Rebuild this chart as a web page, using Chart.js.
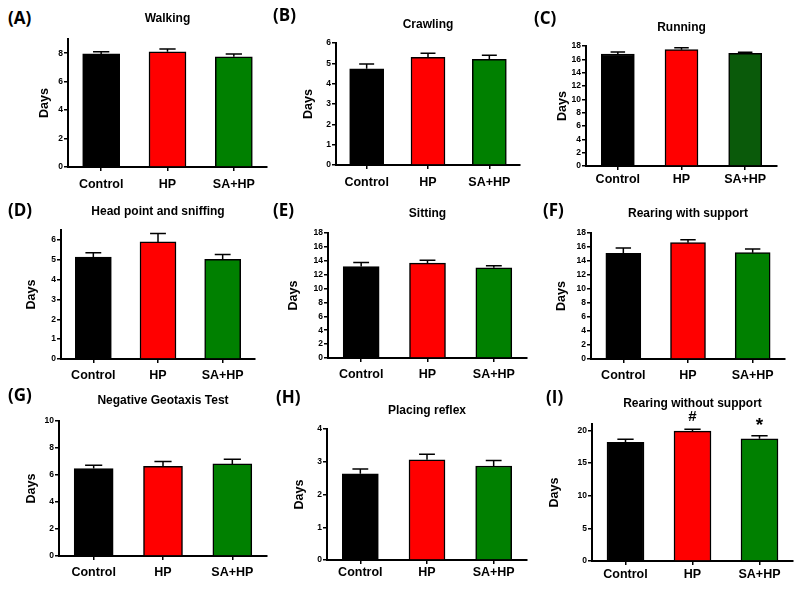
<!DOCTYPE html>
<html>
<head>
<meta charset="utf-8">
<script src="https://cdn.jsdelivr.net/npm/chart.js@4.4.0/dist/chart.umd.min.js"></script>
<style>
  body { margin: 0; background: #fff; }
  #wrap { position: relative; width: 800px; height: 592px; overflow: hidden; }
  #wrap canvas { position: absolute; left: 0; top: 0; }
  .letter { position: absolute; font: bold 17px "Open Sans", sans-serif; color: #000; line-height: 1; }
</style>
</head>
<body>
<div id="wrap"></div>
<script>
// --- data (mean days, upper error = SEM)
const groups = ['Control', 'HP', 'SA+HP'];

const walking = [7.95, 8.1, 7.75];
const walkingErr = [0.15, 0.2, 0.2];
const crawling = [4.73, 5.3, 5.2];
const crawlingErr = [0.24, 0.2, 0.2];
const running = [16.8, 17.45, 16.9];
const runningErr = [0.3, 0.3, 0.15];
const headPoint = [5.13, 5.9, 5.02];
const headPointErr = [0.22, 0.42, 0.25];
const sitting = [13.18, 13.66, 12.99];
const sittingErr = [0.57, 0.43, 0.29];
const rearingWith = [15.09, 16.62, 15.19];
const rearingWithErr = [0.76, 0.43, 0.52];
const geotaxis = [6.48, 6.65, 6.82];
const geotaxisErr = [0.24, 0.35, 0.35];
const placing = [2.63, 3.06, 2.87];
const placingErr = [0.15, 0.17, 0.17];
const rearingWithout = [18.2, 19.9, 18.72];
const rearingWithoutErr = [0.47, 0.3, 0.46];
const rearingWithoutMarks = ['', '#', '*'];

// y axis ranges: [max, step]
const walkingAxis = [9, 2];
const crawlingAxis = [6, 1];
const runningAxis = [18, 2];
const headPointAxis = [6.5, 1];
const sittingAxis = [18, 2];
const rearingWithAxis = [18, 2];
const geotaxisAxis = [10, 2];
const placingAxis = [4, 1];
const rearingWithoutAxis = [21, 5];

const barColors = ['#000000', '#ff0000', '#008000'];
const barColorsDark = ['#000000', '#ff0000', '#0a5a0a'];

// --- layout of each panel (plot box: left, right, top, bottom in page px)
const panels = [
  { letter: '(A)', lx: 8,   ly: 9,   title: 'Walking', values: walking, errors: walkingErr, axis: walkingAxis,
    box: [68, 267, 39, 167], titleY: 19, daysX: 45, labelY: 185, bar: 37 },
  { letter: '(B)', lx: 273, ly: 6,   title: 'Crawling', values: crawling, errors: crawlingErr, axis: crawlingAxis,
    box: [336, 520, 43, 165], titleY: 25, daysX: 309, labelY: 183, bar: 34 },
  { letter: '(C)', lx: 534, ly: 9,   title: 'Running', values: running, errors: runningErr, axis: runningAxis,
    box: [586, 777, 46, 166], titleY: 28, daysX: 563, labelY: 180, bar: 33, colors: barColorsDark },
  { letter: '(D)', lx: 8,   ly: 201, title: 'Head point and sniffing', values: headPoint, errors: headPointErr, axis: headPointAxis,
    box: [61, 255, 230, 359], titleY: 212, daysX: 32, labelY: 376, bar: 36 },
  { letter: '(E)', lx: 273, ly: 201, title: 'Sitting', values: sitting, errors: sittingErr, axis: sittingAxis,
    box: [328, 527, 233, 358], titleY: 214, daysX: 294, labelY: 375, bar: 36 },
  { letter: '(F)', lx: 543, ly: 201, title: 'Rearing with support', values: rearingWith, errors: rearingWithErr, axis: rearingWithAxis,
    box: [591, 785, 233, 359], titleY: 214, daysX: 562, labelY: 376, bar: 35 },
  { letter: '(G)', lx: 8,   ly: 386, title: 'Negative Geotaxis Test', values: geotaxis, errors: geotaxisErr, axis: geotaxisAxis,
    box: [59, 267, 421, 556], titleY: 401, daysX: 32, labelY: 573, bar: 39 },
  { letter: '(H)', lx: 276, ly: 388, title: 'Placing reflex', values: placing, errors: placingErr, axis: placingAxis,
    box: [327, 527, 429, 560], titleY: 411, daysX: 300, labelY: 573, bar: 36 },
  { letter: '(I)', lx: 546, ly: 388, title: 'Rearing without support', values: rearingWithout, errors: rearingWithoutErr, axis: rearingWithoutAxis,
    box: [592, 793, 424, 561], titleY: 404, daysX: 555, labelY: 575, bar: 37, marks: rearingWithoutMarks }
];

const W = 800, H = 592;
const X_AXIS_H = 30;
const LABEL_FONT = 12.5;
const TICK_LEN = 4;

// upper error bars, panel title and significance marks
const panelExtras = {
  id: 'panelExtras',
  afterDatasetsDraw(chart, args, opts) {
    const ctx = chart.ctx;
    const meta = chart.getDatasetMeta(0);
    const y = chart.scales.y;
    ctx.save();
    ctx.strokeStyle = '#000';
    ctx.lineWidth = 1.5;
    meta.data.forEach((bar, i) => {
      const v = opts.values[i];
      const top = y.getPixelForValue(v + opts.errors[i]);
      const base = y.getPixelForValue(v);
      const cap = bar.width * 0.22;
      ctx.beginPath();
      ctx.moveTo(bar.x, base);
      ctx.lineTo(bar.x, top);
      ctx.moveTo(bar.x - cap, top);
      ctx.lineTo(bar.x + cap, top);
      ctx.stroke();
      if (opts.marks && opts.marks[i]) {
        ctx.fillStyle = '#000';
        ctx.textAlign = 'center';
        ctx.textBaseline = 'middle';
        ctx.font = opts.marks[i] === '*' ? 'bold 19px "Liberation Sans", Arial' : 'bold 15px "Liberation Sans", Arial';
        ctx.fillText(opts.marks[i], bar.x, top - (opts.marks[i] === '*' ? 10 : 12));
      }
    });
    // title
    const area = chart.chartArea;
    ctx.fillStyle = '#000';
    ctx.font = 'bold 12px "Liberation Sans", Arial';
    ctx.textAlign = 'center';
    ctx.textBaseline = 'middle';
    ctx.fillText(opts.title, (area.left + area.right) / 2, opts.titleY);
    ctx.restore();
  }
};

const wrap = document.getElementById('wrap');

panels.forEach(p => {
  const [l, r, t, b] = p.box;
  const axisLeft = p.daysX - LABEL_FONT * 1.2 / 2;
  const yAxisW = l - axisLeft;
  const labelPad = p.labelY - b - TICK_LEN - LABEL_FONT * 1.2 / 2;

  const letter = document.createElement('div');
  letter.className = 'letter';
  letter.textContent = p.letter;
  letter.style.left = p.lx + 'px';
  letter.style.top = p.ly + 'px';
  wrap.appendChild(letter);

  const canvas = document.createElement('canvas');
  canvas.width = W;
  canvas.height = H;
  wrap.appendChild(canvas);

  new Chart(canvas, {
    type: 'bar',
    data: {
      labels: groups,
      datasets: [{
        data: p.values,
        backgroundColor: p.colors || barColors,
        borderColor: '#000',
        borderWidth: 1.5,
        borderSkipped: 'bottom',
        barThickness: p.bar
      }]
    },
    options: {
      responsive: false,
      animation: false,
      events: [],
      layout: {
        padding: { left: axisLeft, right: W - r, top: t, bottom: H - b - X_AXIS_H }
      },
      scales: {
        x: {
          afterFit: s => { s.height = X_AXIS_H; },
          border: { display: true, color: '#000', width: 2 },
          grid: { display: true, drawOnChartArea: false, drawTicks: true, tickLength: TICK_LEN, color: '#000', lineWidth: 1.5, offset: false },
          ticks: {
            color: '#000',
            padding: labelPad,
            font: { family: '"Liberation Sans", Arial', size: LABEL_FONT, weight: 'bold' }
          }
        },
        y: {
          min: 0,
          max: p.axis[0],
          afterFit: s => { s.width = yAxisW; },
          border: { display: true, color: '#000', width: 2 },
          grid: { display: true, drawOnChartArea: false, drawTicks: true, tickLength: TICK_LEN, color: '#000', lineWidth: 1.5 },
          ticks: {
            stepSize: p.axis[1],
            includeBounds: false,
            color: '#000',
            padding: 1,
            font: { family: '"Liberation Sans", Arial', size: 8.5, weight: 'bold' }
          },
          title: {
            display: true,
            text: 'Days',
            color: '#000',
            padding: 0,
            font: { family: '"Liberation Sans", Arial', size: LABEL_FONT, weight: 'bold' }
          }
        }
      },
      plugins: {
        legend: { display: false },
        tooltip: { enabled: false },
        panelExtras: { values: p.values, errors: p.errors, marks: p.marks, title: p.title, titleY: p.titleY }
      }
    },
    plugins: [panelExtras]
  });
});
</script>
</body>
</html>
